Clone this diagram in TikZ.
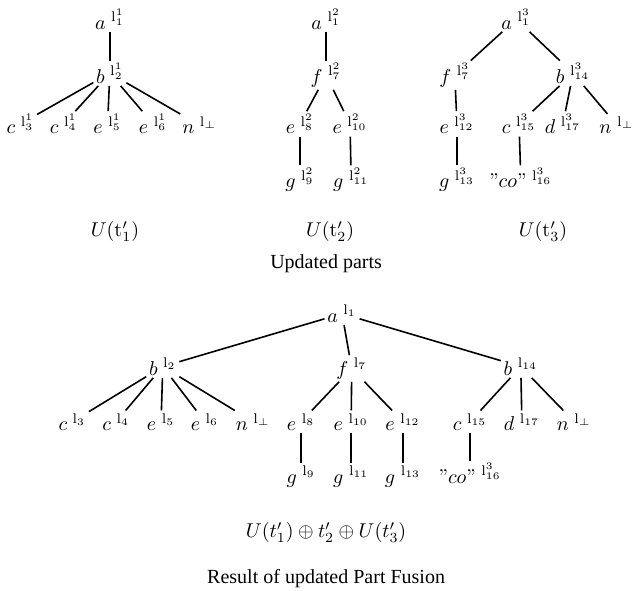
\documentclass[tikz,border=0pt]{standalone}
\usepackage[no-math]{fontspec}
\usepackage{amsmath}
\usepackage{amssymb}
\newfontfamily\capfont{Liberation Serif}

\begin{document}
\begin{tikzpicture}[every node/.style={anchor=base, inner sep=1pt}, thick]

\useasboundingbox (0,0) rectangle (11.21,-10.37) ;

% U(t'_1)
\node (pa) at (1.93,-0.51) {$a\;^{\mathrm{l}^1_1}$} ;
\node (pb) at (1.93,-1.46) {$b\;^{\mathrm{l}^1_2}$} ;
\node (pc3) at (0.36,-2.35) {$c\;^{\mathrm{l}^1_3}$} ;
\node (pc4) at (1.12,-2.35) {$c\;^{\mathrm{l}^1_4}$} ;
\node (pe5) at (1.89,-2.35) {$e\;^{\mathrm{l}^1_5}$} ;
\node (pe6) at (2.69,-2.35) {$e\;^{\mathrm{l}^1_6}$} ;
\node (pn) at (3.51,-2.35) {$n\;^{\mathrm{l}_\perp}$} ;

\draw (pa) to (pb) ;
\draw (pb) to (pc3) ;
\draw (pb) to (pc4) ;
\draw (pb) to (pe5) ;
\draw (pb) to (pe6) ;
\draw (pb) to (pn) ;

% U(t'_2)
\node (qa) at (5.73,-0.51) {$a\;^{\mathrm{l}^2_1}$} ;
\node (qf) at (5.73,-1.46) {$f\;^{\mathrm{l}^2_7}$} ;
\node (qe8) at (5.27,-2.35) {$e\;^{\mathrm{l}^2_8}$} ;
\node (qe10) at (6.15,-2.35) {$e\;^{\mathrm{l}^2_{10}}$} ;
\node (qg9) at (5.27,-3.30) {$g\;^{\mathrm{l}^2_9}$} ;
\node (qg11) at (6.17,-3.30) {$g\;^{\mathrm{l}^2_{11}}$} ;

\draw (qa) to (qf) ;
\draw (qf) to (qe8) ;
\draw (qf) to (qe10) ;
\draw (qe8) to (qg9) ;
\draw (qe10) to (qg11) ;

% U(t'_3)
\node (sa) at (9.07,-0.51) {$a\;^{\mathrm{l}^3_1}$} ;
\node (sf) at (7.99,-1.46) {$f\;^{\mathrm{l}^3_7}$} ;
\node (sb) at (10.07,-1.46) {$b\;^{\mathrm{l}^3_{14}}$} ;
\node (se12) at (8.03,-2.35) {$e\;^{\mathrm{l}^3_{12}}$} ;
\node (sc15) at (9.12,-2.35) {$c\;^{\mathrm{l}^3_{15}}$} ;
\node (sd17) at (9.89,-2.35) {$d\;^{\mathrm{l}^3_{17}}$} ;
\node (sn) at (10.84,-2.35) {$n\;^{\mathrm{l}_\perp}$} ;
\node (sg13) at (8.03,-3.30) {$g\;^{\mathrm{l}^3_{13}}$} ;
\node (sco) at (9.15,-3.30) {''$co$''$\;^{\mathrm{l}^3_{16}}$} ;

\draw (sa) to (sf) ;
\draw (sa) to (sb) ;
\draw (sf) to (se12) ;
\draw (se12) to (sg13) ;
\draw (sb) to (sc15) ;
\draw (sb) to (sd17) ;
\draw (sb) to (sn) ;
\draw (sc15) to (sco) ;

\node (cap1) at (2.02,-4.16) {$U(\mathrm{t}'_1)$} ;
\node (cap2) at (5.80,-4.16) {$U(\mathrm{t}'_2)$} ;
\node (cap3) at (9.54,-4.16) {$U(\mathrm{t}'_3)$} ;
\node (parts) at (5.73,-4.71) {\capfont Updated parts} ;

% fused tree
\node (ra) at (6.01,-5.66) {$a\;^{\mathrm{l}_1}$} ;
\node (rb2) at (2.86,-6.59) {$b\;^{\mathrm{l}_2}$} ;
\node (rf7) at (6.18,-6.59) {$f\;^{\mathrm{l}_7}$} ;
\node (rb14) at (9.15,-6.59) {$b\;^{\mathrm{l}_{14}}$} ;

\node (rc3) at (1.27,-7.56) {$c\;^{\mathrm{l}_3}$} ;
\node (rc4) at (2.04,-7.56) {$c\;^{\mathrm{l}_4}$} ;
\node (re5) at (2.83,-7.56) {$e\;^{\mathrm{l}_5}$} ;
\node (re6) at (3.60,-7.56) {$e\;^{\mathrm{l}_6}$} ;
\node (rn2) at (4.45,-7.56) {$n\;^{\mathrm{l}_\perp}$} ;
\node (re8) at (5.29,-7.56) {$e\;^{\mathrm{l}_8}$} ;
\node (re10) at (6.17,-7.56) {$e\;^{\mathrm{l}_{10}}$} ;
\node (re12) at (7.08,-7.56) {$e\;^{\mathrm{l}_{12}}$} ;
\node (rc15) at (8.26,-7.56) {$c\;^{\mathrm{l}_{15}}$} ;
\node (rd17) at (9.17,-7.56) {$d\;^{\mathrm{l}_{17}}$} ;
\node (rn14) at (10.09,-7.56) {$n\;^{\mathrm{l}_\perp}$} ;

\node (rg9) at (5.29,-8.49) {$g\;^{\mathrm{l}_9}$} ;
\node (rg11) at (6.17,-8.49) {$g\;^{\mathrm{l}_{11}}$} ;
\node (rg13) at (7.08,-8.49) {$g\;^{\mathrm{l}_{13}}$} ;
\node (rco) at (8.26,-8.49) {''$co$''$\;^{\mathrm{l}^3_{16}}$} ;

\draw (ra) to (rb2) ;
\draw (ra) to (rf7) ;
\draw (ra) to (rb14) ;
\foreach \k in {rc3,rc4,re5,re6,rn2} \draw (rb2) to (\k) ;
\foreach \k in {re8,re10,re12} \draw (rf7) to (\k) ;
\foreach \k in {rc15,rd17,rn14} \draw (rb14) to (\k) ;
\draw (re8) to (rg9) ;
\draw (re10) to (rg11) ;
\draw (re12) to (rg13) ;
\draw (rc15) to (rco) ;

\node (sum) at (5.73,-9.45) {$U(t'_1)\oplus t'_2\oplus U(t'_3)$} ;
\node (fusion) at (5.73,-10.26) {\capfont Result of updated Part Fusion} ;

\end{tikzpicture}
\end{document}
